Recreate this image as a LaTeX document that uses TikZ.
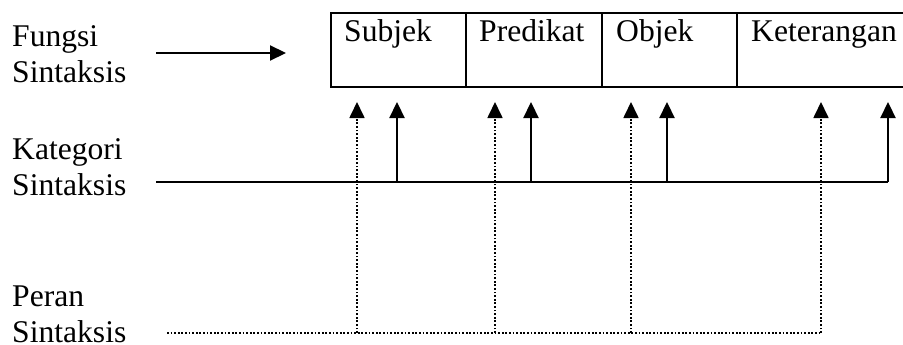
\documentclass[tikz,border=0pt]{standalone}
\usepackage{fontspec}
\setmainfont{Liberation Serif}
\usetikzlibrary{arrows.meta}
\begin{document}
\begin{tikzpicture}[x=1pt,y=-1pt,
  lbl/.style={anchor=base west,inner sep=0pt,font=\fontsize{31.6}{36}\selectfont},
  cell/.style={draw,line width=2.2pt,anchor=north west,inner sep=0pt,minimum height=74pt},
  tip/.style={-{Triangle[length=16pt,width=15pt]}},
  solidln/.style={line width=2.2pt},
  dotln/.style={line width=1.7pt,dash pattern=on 1.8pt off 1.8pt}]
\useasboundingbox (0,0) rectangle (903,345);
% left labels
\node[lbl] (f1) at (12,47) {Fungsi};
\node[lbl] (f2) at (12,83) {Sintaksis};
\node[lbl] (k1) at (12,159) {Kategori};
\node[lbl] (k2) at (12,195) {Sintaksis};
\node[lbl] (p1) at (12,306) {Peran};
\node[lbl] (p2) at (12,342) {Sintaksis};
% cells
\node[cell,minimum width=135pt] (cs) at (330,12) {};
\node[cell,minimum width=136pt] (cp) at (465,12) {};
\node[cell,minimum width=135pt] (co) at (601,12) {};
\node[cell,minimum width=180pt] (ck) at (736,12) {};
\node[lbl] (ts) at ([xshift=14pt,yshift=-30pt]cs.north west) {Subjek};
\node[lbl] (tp) at ([xshift=14pt,yshift=-30pt]cp.north west) {Predikat};
\node[lbl] (to) at ([xshift=15pt,yshift=-30pt]co.north west) {Objek};
\node[lbl] (tk) at ([xshift=15pt,yshift=-30pt]ck.north west) {Keterangan};
% Fungsi arrow
\coordinate (fa) at (156,53);
\coordinate (fb) at (286,53);
\draw[solidln,tip] (fa) -- (fb);
% Kategori line and arrows
\coordinate (k0) at (156,182);
\coordinate (kend) at (888,182);
\draw[solidln] (k0) -- (kend);
\foreach \x/\n in {397/a,531/b,667/c,888/d}{
  \coordinate (kb\n) at (\x,182);
  \coordinate (kt\n) at (\x,102);
  \draw[solidln,tip] (kb\n) -- (kt\n);
}
% Peran dotted line and arrows
\coordinate (p0) at (167,333);
\coordinate (pend) at (821,333);
\draw[dotln] (p0) -- (pend);
\foreach \x/\n in {357/a,495/b,631/c,821/d}{
  \coordinate (pb\n) at (\x,333);
  \coordinate (pt\n) at (\x,102);
  \draw[dotln,tip] (pb\n) -- (pt\n);
}
\end{tikzpicture}
\end{document}
